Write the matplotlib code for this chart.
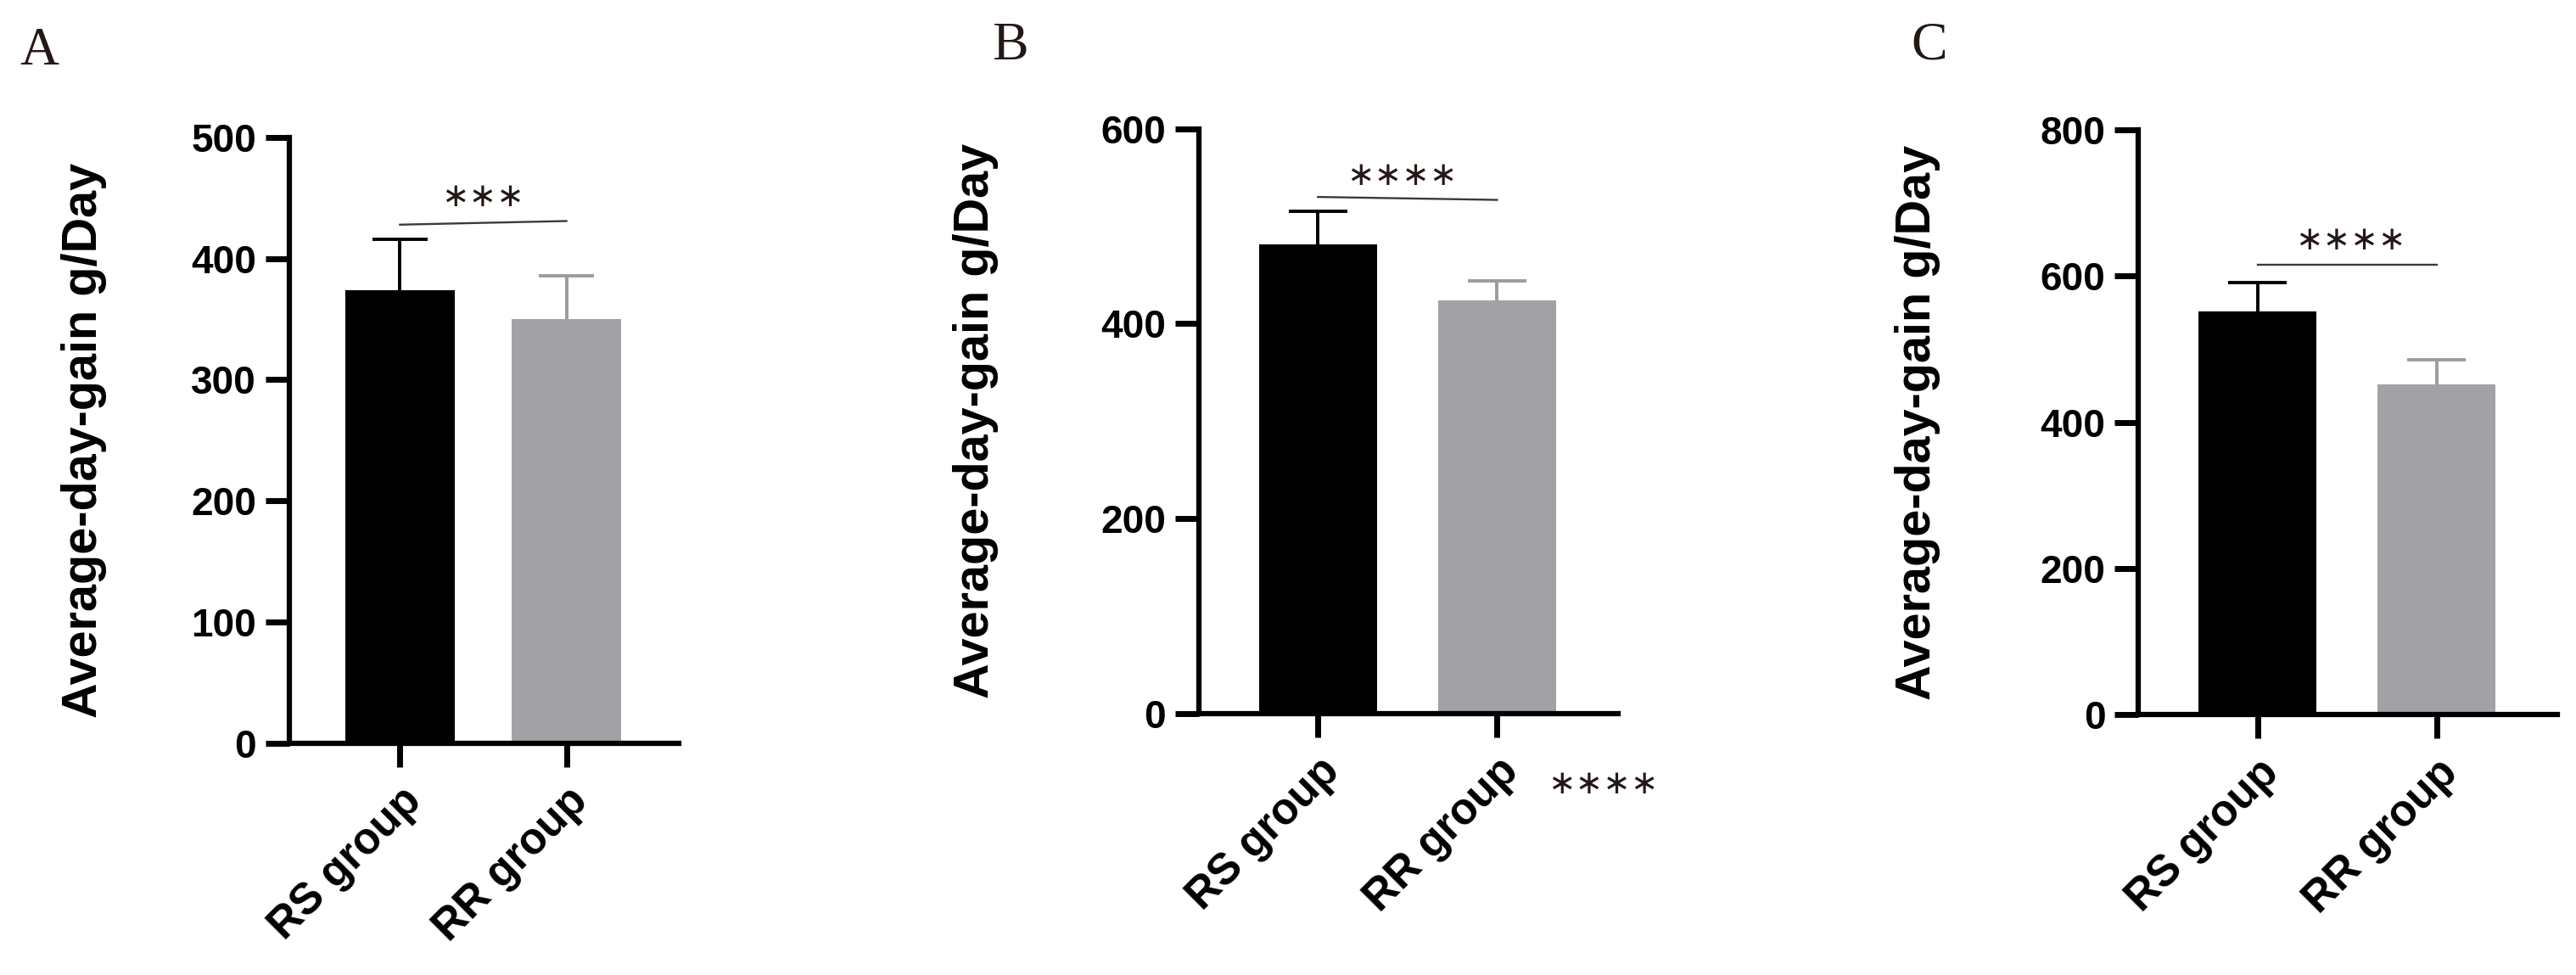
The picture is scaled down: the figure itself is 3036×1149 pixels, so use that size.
import matplotlib
matplotlib.use("Agg")
import matplotlib.pyplot as plt
import matplotlib.transforms as mtransforms

# data
groups = ["RS group", "RR group"]
panel_letters = ["A", "B", "C"]

means_A = [374, 350]
err_A = [42, 36]
means_B = [481, 424]
err_B = [34, 20]
means_C = [552, 452]
err_C = [39, 33]

ymax = [500, 600, 800]
ystep = [100, 200, 200]

# significance bar: y at left / right end, stars height
sig_y_A = [428, 431]
sig_y_B = [530, 527]
sig_y_C = [615, 615]
star_y = [451, 552, 649]
star_x = [0.50, 0.47, 0.52]
stars = ["∗∗∗", "∗∗∗∗", "∗∗∗∗"]

ylabel = "Average-day-gain g/Day"

bar_colors = ["#000000", "#a2a2a6"]
err_colors = ["#000000", "#9c9c9f"]
ink = "#231815"

plt.rcParams["font.family"] = ["Liberation Sans", "DejaVu Sans"]

fig = plt.figure(figsize=(30.36, 11.49), dpi=100)

# axes boxes in figure fraction (left, bottom, width, height)
boxes = [
    [0.1123, 0.238, 0.1512, 0.621],
    [0.4654, 0.268, 0.1627, 0.600],
    [0.8302, 0.2668, 0.1625, 0.600],
]
label_x = [-0.527, -0.532, -0.528]
letter_pos = [(23, 76), (1169, 70), (2252, 70)]

all_means = [means_A, means_B, means_C]
all_err = [err_A, err_B, err_C]
all_sig = [sig_y_A, sig_y_B, sig_y_C]

bar_w = 0.66
cap_half = 0.165

for i in range(3):
    ax = fig.add_axes(boxes[i])
    x = [0, 1]
    ax.bar(x, all_means[i], width=bar_w, color=bar_colors, zorder=2)
    # upper error bars only
    for j in range(2):
        top = all_means[i][j] + all_err[i][j]
        ax.vlines(x[j], all_means[i][j], top, color=err_colors[j], lw=2.8, zorder=1)
        ax.hlines(top, x[j] - cap_half, x[j] + cap_half, color=err_colors[j], lw=2.8, zorder=1)

    # significance line + stars
    ax.plot([0, 1], all_sig[i], color="#3a3a3a", lw=1.7, clip_on=False)
    ax.text(star_x[i], star_y[i], stars[i], ha="center", va="center",
            fontsize=28, color=ink, family=["DejaVu Sans"])

    ax.set_xlim(-0.665, 1.675)
    ax.set_ylim(0, ymax[i])
    ax.set_yticks(range(0, ymax[i] + 1, ystep[i]))
    ax.set_xticks(x)
    ax.set_xticklabels(groups, rotation=45, ha="right", va="top",
                       rotation_mode="anchor", fontsize=37, fontweight="bold")
    offset = mtransforms.ScaledTranslation(8 / 100, 0, fig.dpi_scale_trans)
    for lab in ax.get_xticklabels():
        lab.set_transform(lab.get_transform() + offset)
    for lab in ax.get_yticklabels():
        lab.set_fontsize(33)
        lab.set_fontweight("bold")

    for s in ["top", "right"]:
        ax.spines[s].set_visible(False)
    for s in ["left", "bottom"]:
        ax.spines[s].set_linewidth(4.5)
    ax.tick_params(axis="y", length=20, width=5, pad=8)
    ax.tick_params(axis="x", length=20, width=5, pad=11)

    ax.set_ylabel(ylabel, fontsize=41.5, fontweight="bold")
    ax.yaxis.set_label_coords(label_x[i], 0.5)
    ax.yaxis.label.set_verticalalignment("center")

    lx, ly = letter_pos[i]
    fig.text(lx / 3036, 1 - ly / 1149, panel_letters[i], fontsize=46,
             family=["Liberation Serif"], color=ink, va="baseline")

# stray stars under panel B
fig.text(1889 / 3036, 1 - 924 / 1149, "∗∗∗∗", ha="center", va="center",
         fontsize=28, color=ink, family=["DejaVu Sans"])

fig.savefig("out.png", dpi=100)
